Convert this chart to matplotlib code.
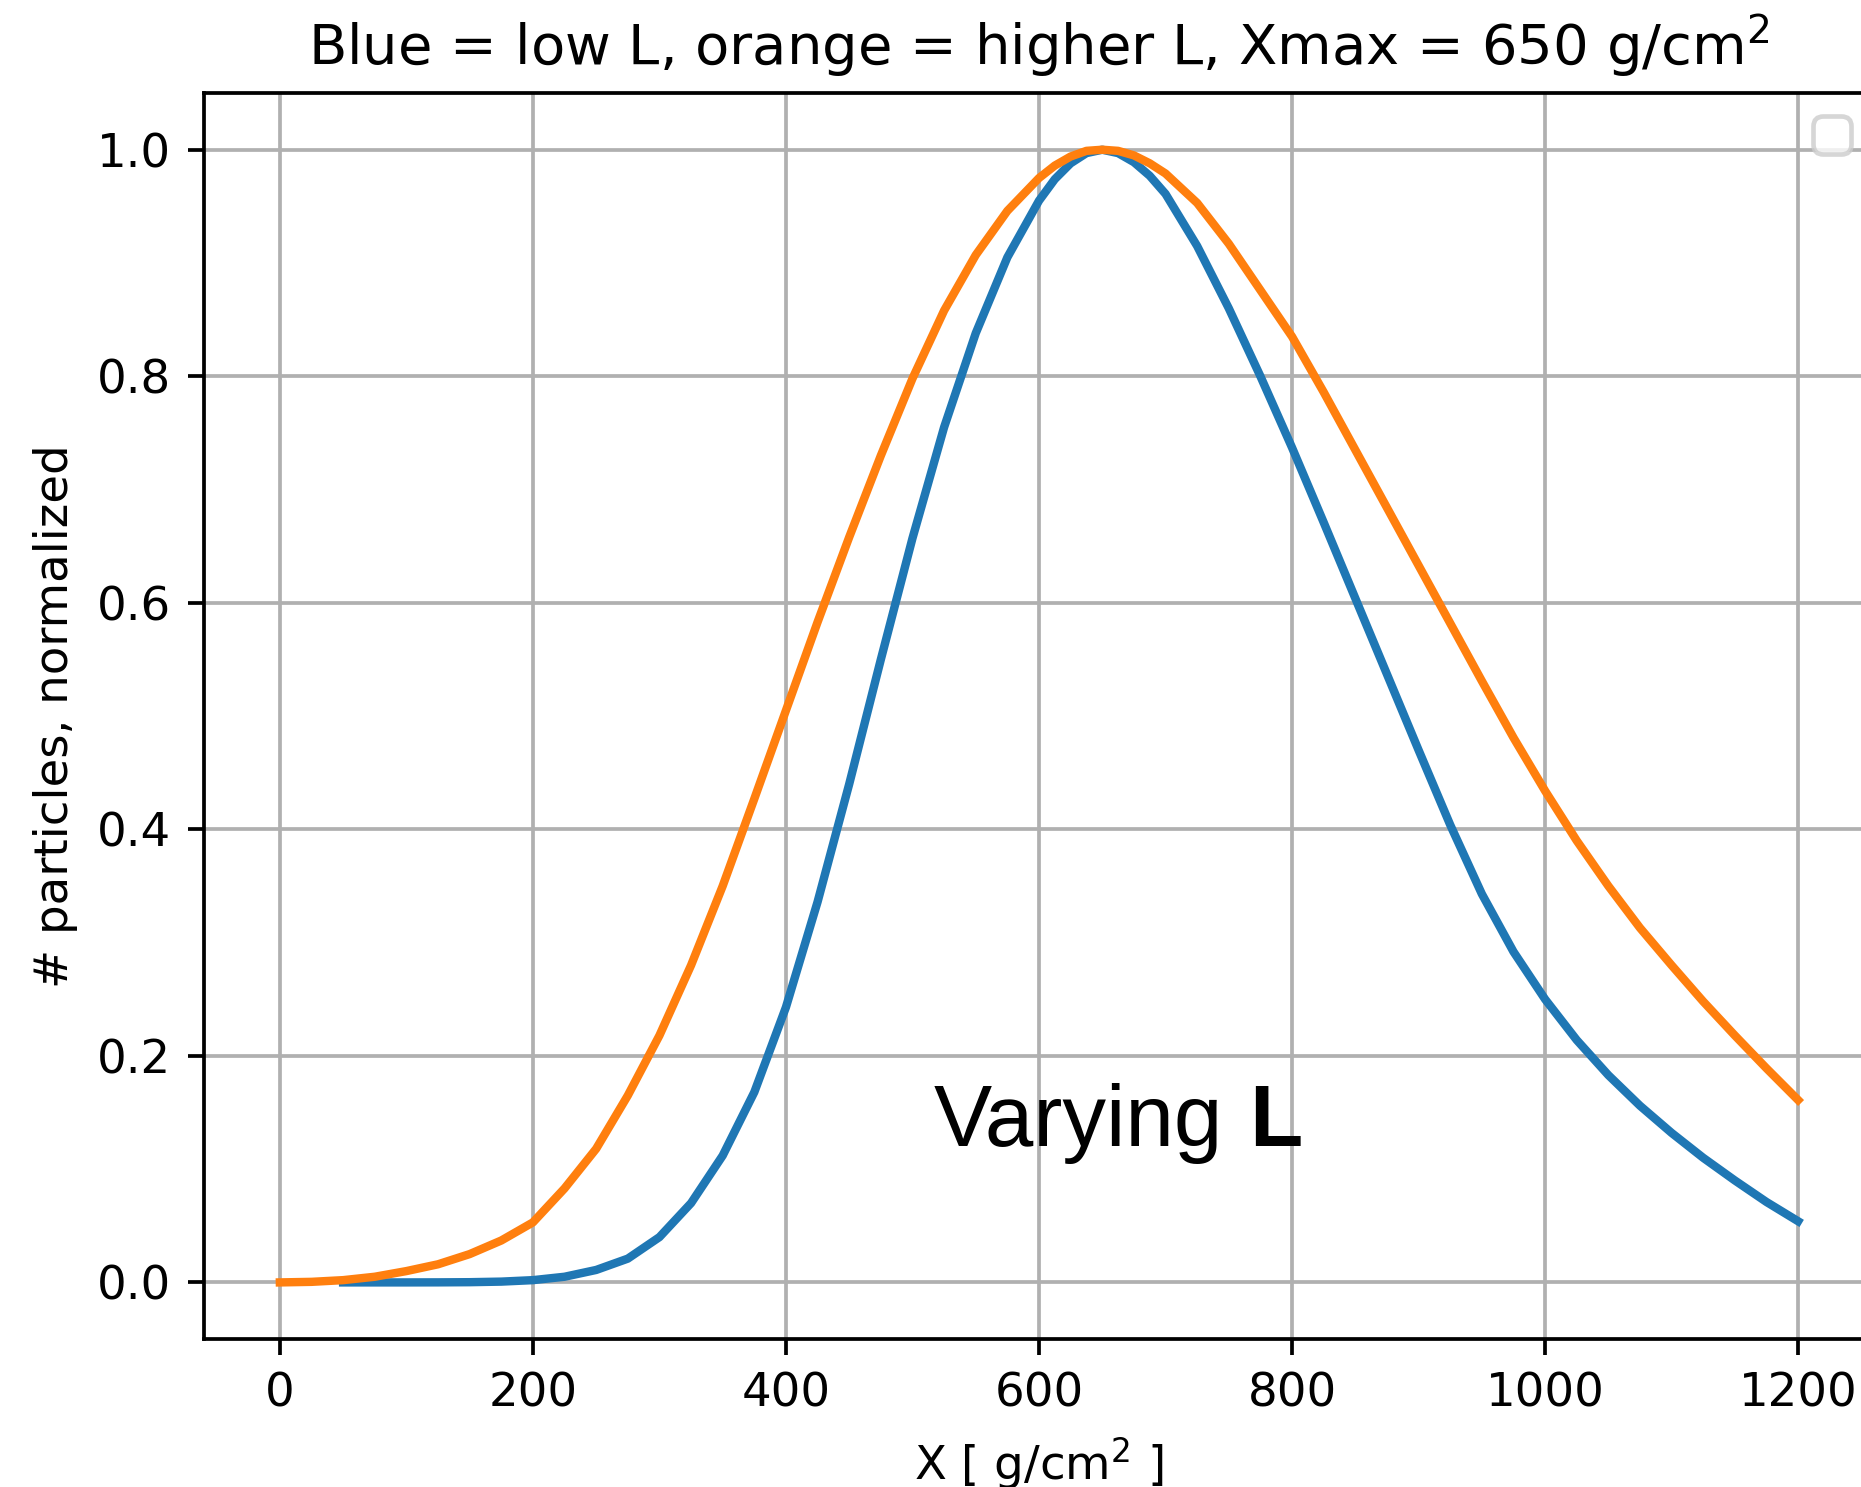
import matplotlib
matplotlib.use("Agg")
import matplotlib.pyplot as plt

# =====================================
# Gaisser-Hillas style shower profiles
# =====================================

# low L (blue)
x_low = [50, 100, 125, 150, 175, 200, 225, 250, 275, 300, 325, 350, 375, 400, 425, 450, 475,
         500, 525, 550, 575, 600, 612.5, 625, 637.5, 650, 662.5, 675, 687.5, 700, 725, 750,
         775, 800, 825, 850, 875, 900, 925, 950, 975, 1000, 1025, 1050, 1075, 1100, 1125,
         1150, 1175, 1200]
n_low = [0.0, 0.0, 0.00005, 0.0002, 0.0007, 0.002, 0.005, 0.011, 0.021, 0.040, 0.070,
         0.112, 0.168, 0.243, 0.336, 0.440, 0.550, 0.657, 0.755, 0.838, 0.905, 0.955,
         0.974, 0.988, 0.997, 1.0, 0.997, 0.989, 0.977, 0.961, 0.915, 0.860, 0.800,
         0.737, 0.671, 0.604, 0.537, 0.470, 0.404, 0.343, 0.292, 0.250, 0.214, 0.183,
         0.156, 0.132, 0.110, 0.090, 0.071, 0.054]

# higher L (orange)
x_high = [0, 25, 50, 75, 100, 125, 150, 175, 200, 225, 250, 275, 300, 325, 350, 375,
          400, 425, 450, 475, 500, 525, 550, 575, 600, 612.5, 625, 637.5, 650, 662.5,
          675, 687.5, 700, 725, 750, 775, 800, 825, 850, 875, 900, 925, 950, 975, 1000,
          1025, 1050, 1075, 1100, 1125, 1150, 1175, 1200]
n_high = [0.0, 0.0005, 0.002, 0.005, 0.010, 0.016, 0.025, 0.037, 0.053, 0.083, 0.118,
          0.165, 0.218, 0.280, 0.350, 0.427, 0.505, 0.583, 0.658, 0.730, 0.798, 0.858,
          0.907, 0.946, 0.975, 0.986, 0.994, 0.999, 1.0, 0.999, 0.995, 0.988, 0.979,
          0.953, 0.917, 0.876, 0.835, 0.786, 0.735, 0.684, 0.633, 0.582, 0.531, 0.481,
          0.434, 0.390, 0.350, 0.313, 0.280, 0.248, 0.218, 0.189, 0.161]

DPI = 336
fig = plt.figure(figsize=(1861 / DPI, 1487 / DPI), dpi=DPI)
ax = fig.add_axes([0.1096, 0.0995, 0.8974, 0.8379])

ax.plot(x_low, n_low, color="#1f77b4", lw=1.8)
ax.plot(x_high, n_high, color="#ff7f0e", lw=1.8)

ax.grid(True)
ax.set_title("Blue = low L, orange = higher L, Xmax = 650 g/cm$^2$")
ax.set_xlabel("X [ g/cm$^2$ ]")
ax.set_ylabel("# particles, normalized")
ax.legend(handles=[], loc="upper right")

# overlay label
ax.text(517, 0.12, "Varying", fontsize=18.7, family="Liberation Sans")
ax.text(766, 0.12, "L", fontsize=18.7, family="Liberation Sans", fontweight="bold")

fig.savefig("out.png", dpi=DPI)
